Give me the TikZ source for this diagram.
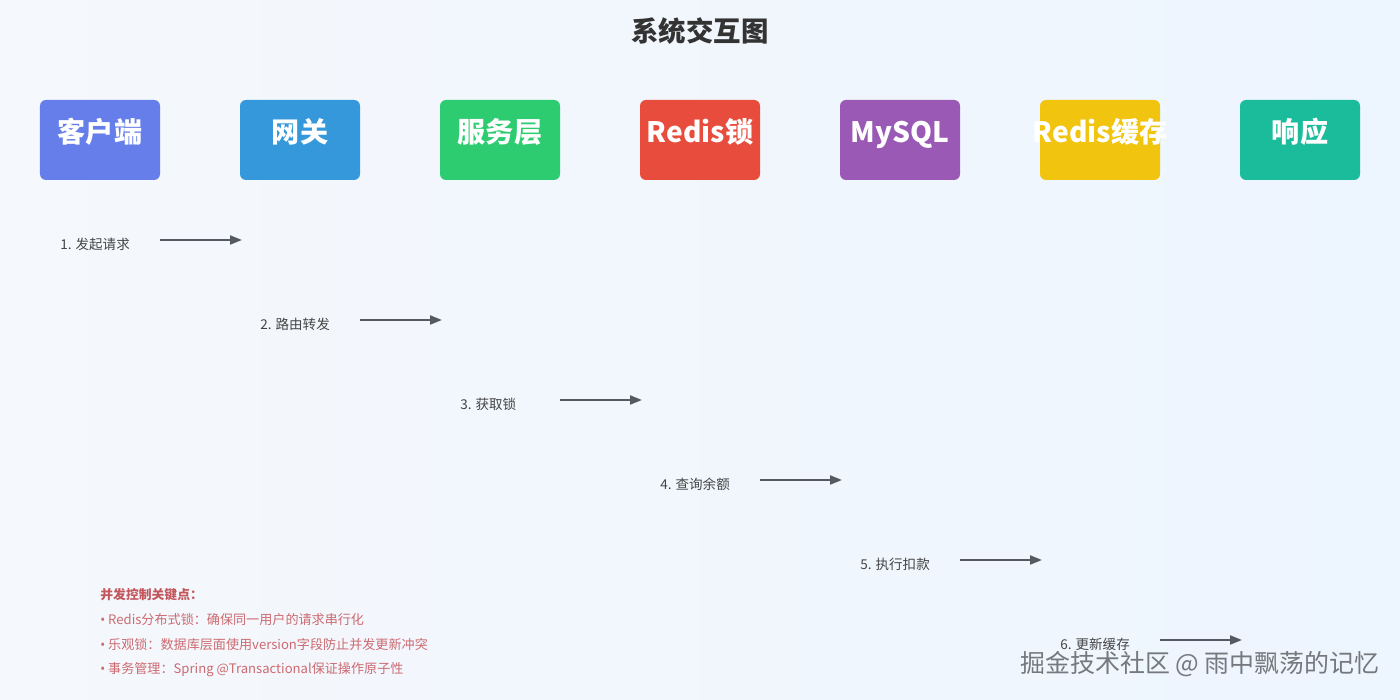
\documentclass[tikz,border=0pt]{standalone}
\usepackage{fontspec}
\setmainfont{Noto Sans CJK SC}
\newfontfamily\latinfont{Noto Sans}
\usepackage{tikz}
\usetikzlibrary{arrows.meta}
\tikzset{>={Triangle[length=2.4mm,width=1.8mm]}}
\definecolor{bgleft}{HTML}{F5F8FC}
\definecolor{bgright}{HTML}{EDF5FE}
\definecolor{titlegray}{HTML}{333333}
\definecolor{labelgray}{HTML}{444444}
\definecolor{arrowgray}{HTML}{555A60}
\definecolor{clientblue}{HTML}{667EEA}
\definecolor{gatewayblue}{HTML}{3498DB}
\definecolor{servicegreen}{HTML}{2ECC71}
\definecolor{lockred}{HTML}{E74C3C}
\definecolor{mysqlpurple}{HTML}{9B59B6}
\definecolor{cacheyellow}{HTML}{F1C40F}
\definecolor{responseteal}{HTML}{1ABC9C}
\definecolor{notehead}{HTML}{C4575E}
\definecolor{notetext}{HTML}{CC6A70}
\definecolor{markgray}{HTML}{75787D}

\begin{document}
\begin{tikzpicture}[x=0.2mm, y=-0.2mm,
    actor/.style={rectangle, rounded corners=1.2mm, minimum width=24mm, minimum height=16mm,
      inner ysep=0pt, inner xsep=-3mm, text=white, font=\fontsize{16}{18}\selectfont\bfseries,
      text height=5.2mm, text depth=4mm},
    steplabel/.style={anchor=west, inner sep=0pt, text=labelgray, font=\fontsize{7.7}{9}\selectfont},
    note/.style={anchor=west, inner sep=0pt, text=notetext, font=\fontsize{7.45}{9}\selectfont},
    flow/.style={->, draw=arrowgray, line width=0.4mm}]
  \shade[left color=bgleft, right color=bgright] (0,0) rectangle (1400,700);
  \useasboundingbox (0,0) rectangle (1400,700);

  \node (title) at (700,31) [text=titlegray, font=\fontsize{15.6}{18}\selectfont\bfseries] {系统交互图};

  % participants
  \node (client) at (100,140) [actor, fill=clientblue] {客户端};
  \node (gateway) at (300,140) [actor, fill=gatewayblue] {网关};
  \node (service) at (500,140) [actor, fill=servicegreen] {服务层};
  \node (redislock) at (700,140) [actor, fill=lockred] {Redis锁};
  \node (mysql) at (900,140) [actor, fill=mysqlpurple] {MySQL};
  \node (rediscache) at (1100,140) [actor, fill=cacheyellow] {Redis缓存};
  \node (response) at (1300,140) [actor, fill=responseteal] {响应};

  % steps
  \node (request) at (60,244) [steplabel] {1. 发起请求};
  \coordinate (requeststart) at (160,240);
  \coordinate (requestend) at (242,240);
  \draw[flow] (requeststart) to (requestend);

  \node (routing) at (260,324) [steplabel] {2. 路由转发};
  \coordinate (routingstart) at (360,320);
  \coordinate (routingend) at (442,320);
  \draw[flow] (routingstart) to (routingend);

  \node (acquire) at (460,404) [steplabel] {3. 获取锁};
  \coordinate (acquirestart) at (560,400);
  \coordinate (acquireend) at (642,400);
  \draw[flow] (acquirestart) to (acquireend);

  \node (query) at (660,484) [steplabel] {4. 查询余额};
  \coordinate (querystart) at (760,480);
  \coordinate (queryend) at (842,480);
  \draw[flow] (querystart) to (queryend);

  \node (deduct) at (860,564) [steplabel] {5. 执行扣款};
  \coordinate (deductstart) at (960,560);
  \coordinate (deductend) at (1042,560);
  \draw[flow] (deductstart) to (deductend);

  \node (refresh) at (1060,644) [steplabel] {6. 更新缓存};
  \coordinate (refreshstart) at (1160,640);
  \coordinate (refreshend) at (1242,640);
  \draw[flow] (refreshstart) to (refreshend);

  % key points
  \node (keyhead) at (100,595) [note, text=notehead, font=\fontsize{7.3}{9}\selectfont\bfseries] {并发控制关键点：};
  \node (keylock) at (100,620) [note] {{\latinfont •} Redis分布式锁：确保同一用户的请求串行化};
  \node (keyversion) at (100,645) [note] {{\latinfont •} 乐观锁：数据库层面使用version字段防止并发更新冲突};
  \node (keytx) at (100,670) [note] {{\latinfont •} 事务管理：Spring @Transactional保证操作原子性};

  \node (watermark) at (1380,664) [anchor=east, inner sep=0pt, text=markgray, font=\fontsize{14.2}{16}\selectfont] {掘金技术社区 @ 雨中飘荡的记忆};
\end{tikzpicture}
\end{document}
